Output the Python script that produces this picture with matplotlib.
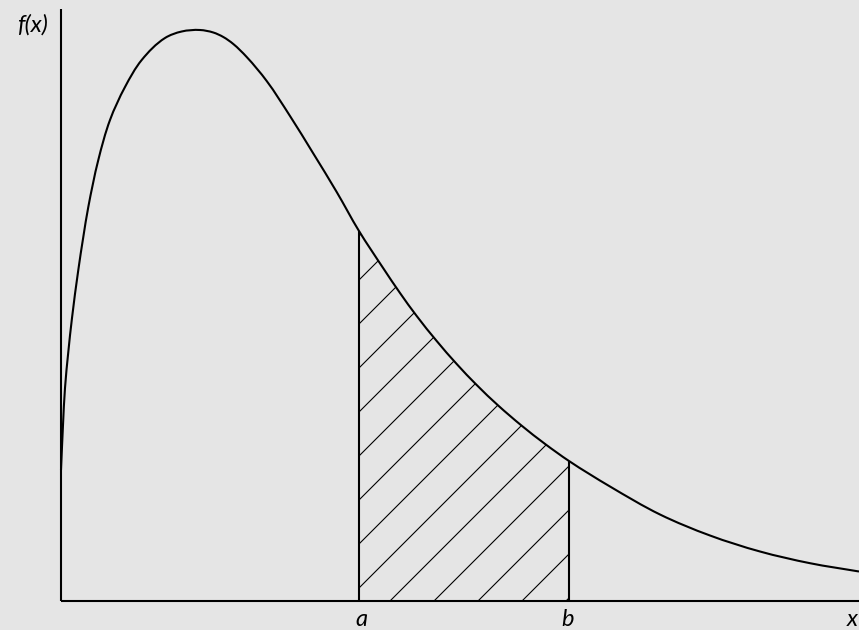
import numpy as np
import matplotlib
matplotlib.use("Agg")
import matplotlib.pyplot as plt
from matplotlib.path import Path
from matplotlib.patches import PathPatch

# Density curve (arbitrary units, origin at the axes corner)
curve_x = [0.0, 0.02, 0.04, 0.073, 0.11, 0.173, 0.223, 0.273, 0.373, 0.49, 0.64,
           0.807, 1.04, 1.207, 1.39, 1.523, 1.623, 1.723, 1.857, 2.057, 2.29, 2.52,
           2.757, 2.98, 3.223, 3.39, 3.557, 3.757, 3.957, 4.157, 4.373, 4.607, 4.84,
           5.08, 5.49, 5.99, 6.49, 6.99, 7.49, 7.98]
curve_y = [1.31, 1.76, 2.13, 2.49, 2.83, 3.31, 3.64, 3.94, 4.41, 4.81, 5.14,
           5.41, 5.63, 5.695, 5.71, 5.685, 5.64, 5.57, 5.44, 5.20, 4.85, 4.48,
           4.09, 3.70, 3.327, 3.08, 2.85, 2.60, 2.37, 2.16, 1.954, 1.753, 1.571,
           1.40, 1.145, 0.865, 0.655, 0.495, 0.378, 0.295]

a_val = 2.98
b_val = 5.08
labels = {"y": "f(x)", "a": "a", "b": "b", "x": "x"}

bg = "#e5e5e5"
fig = plt.figure(figsize=(8.59, 6.30), dpi=100, facecolor=bg)
ax = fig.add_axes([0, 0, 1, 1])
ax.set_facecolor(bg)
ax.set_xlim(-0.61, 7.98)
ax.set_ylim(-0.29, 6.01)
ax.axis("off")

P = np.column_stack([curve_x, curve_y])
n = len(P)

# smooth tangents (chord-length scaled Bezier through the read points)
tang = np.zeros_like(P)
for i in range(n):
    if i == 0:
        d = P[1] - P[0]
    elif i == n - 1:
        d = P[-1] - P[-2]
    else:
        d1 = P[i] - P[i - 1]
        d2 = P[i + 1] - P[i]
        d = d1 / np.hypot(*d1) + d2 / np.hypot(*d2)
    tang[i] = d / np.hypot(*d)


def bezier_segments(i0, i1):
    verts, codes = [], []
    for k in range(i0, i1):
        L = np.hypot(*(P[k + 1] - P[k])) / 3.0
        verts += [P[k] + tang[k] * L, P[k + 1] - tang[k + 1] * L, P[k + 1]]
        codes += [Path.CURVE4] * 3
    return verts, codes


lw_main = 1.5
# axes
ax.plot([0, 0], [0, 5.92], color="black", lw=lw_main, solid_capstyle="butt")
ax.plot([0, 7.98], [0, 0], color="black", lw=lw_main, solid_capstyle="butt")

# curve
v, c = bezier_segments(0, n - 1)
curve_path = Path([P[0]] + v, [Path.MOVETO] + c)
ax.add_patch(PathPatch(curve_path, facecolor="none", edgecolor="black", lw=lw_main))

# bounds
ia = int(np.argmin(np.abs(np.array(curve_x) - a_val)))
ib = int(np.argmin(np.abs(np.array(curve_x) - b_val)))
fa = curve_y[ia]
fb = curve_y[ib]
ax.plot([a_val, a_val], [0, fa], color="black", lw=lw_main, solid_capstyle="butt")
ax.plot([b_val, b_val], [0, fb], color="black", lw=lw_main, solid_capstyle="butt")

# hatched region: 45 degree lines clipped to the area under the curve
v, c = bezier_segments(ia, ib)
region_path = Path([(a_val, 0), (a_val, fa)] + v + [(b_val, 0), (a_val, 0)],
                   [Path.MOVETO, Path.LINETO] + c + [Path.LINETO, Path.CLOSEPOLY])
region = PathPatch(region_path, facecolor="none", edgecolor="none")
ax.add_patch(region)
spacing = 0.44
offsets = np.arange(3.29 - 10 * spacing, b_val + spacing, spacing)
for off in offsets:
    xs = np.array([off - 1, off + 6])
    ln, = ax.plot(xs, xs - off, color="black", lw=0.8)
    ln.set_clip_path(region)

font = dict(family=["Lato", "DejaVu Sans"], style="italic", size=17)
ax.text(32 / 100 - 0.61, 6.01 - 25 / 100, labels["y"], ha="center", va="center", **font)
ax.text(a_val + 0.027, -0.255, labels["a"], ha="center", va="baseline", **font)
ax.text(b_val - 0.01, -0.255, labels["b"], ha="center", va="baseline", **font)
ax.text(7.965, -0.255, labels["x"], ha="right", va="baseline", **font)

fig.savefig("out.png", dpi=100, facecolor=bg)
